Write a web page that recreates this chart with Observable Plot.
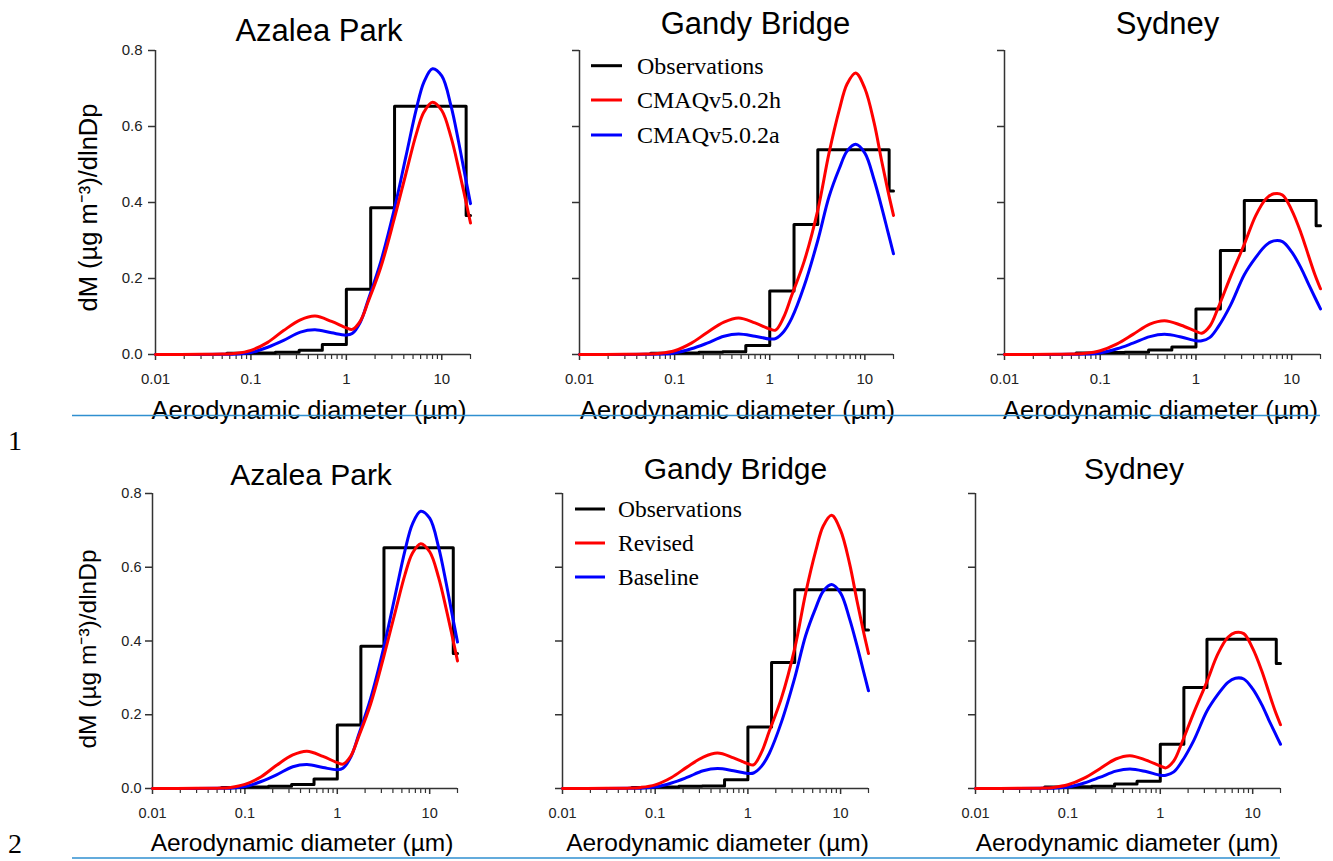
<!DOCTYPE html>
<html><head><meta charset="utf-8">
<script src="https://cdn.jsdelivr.net/npm/d3@7"></script>
<script src="https://cdn.jsdelivr.net/npm/@observablehq/plot@0.6"></script>
<style>
body{margin:0;background:#fff;}
#root{position:relative;width:1333px;height:861px;overflow:hidden;background:#fff;font-family:"Liberation Sans",Arial,sans-serif;}
</style></head><body><div id="root"></div>
<script>
// ---------- data ----------
const sites = ["Azalea Park", "Gandy Bridge", "Sydney"];
const xLabel = "Aerodynamic diameter (µm)";
const yLabel = "dM (µg m⁻³)/dlnDp";
const legendRow1 = ["Observations", "CMAQv5.0.2h", "CMAQv5.0.2a"];
const legendRow2 = ["Observations", "Revised", "Baseline"];
const yTicks = [0, 0.2, 0.4, 0.6, 0.8];
const xMajor = [0.01, 0.1, 1, 10];
const xMajorLabels = ["0.01", "0.1", "1", "10"];
const xMinor = [0.02,0.03,0.04,0.05,0.06,0.07,0.08,0.09,0.2,0.3,0.4,0.5,0.6,0.7,0.8,0.9,2,3,4,5,6,7,8,9,20];

// observation bins (lower edges, last = upper end)
const obsEdges = [0.056, 0.1, 0.18, 0.32, 0.56, 1.0, 1.8, 3.2, 18, 20];
const obsAzalea = [0.003, 0.004, 0.006, 0.011, 0.026, 0.172, 0.386, 0.653, 0.366];
const obsGandy  = [0.003, 0.004, 0.006, 0.007, 0.024, 0.167, 0.342, 0.539, 0.43];
const obsSydney = [0.004, 0.005, 0.006, 0.012, 0.020, 0.120, 0.274, 0.405, 0.339];

// model curves sampled at diameters
const modelDp = [0.01,0.03,0.05,0.07,0.1,0.15,0.22,0.33,0.47,0.7,1.0,1.15,1.4,1.7,2.3,3.2,4.2,5.4,6.5,8,10,12.5,15,17.5,20];
const azaleaRevised  = [0,0.0005,0.001,0.003,0.011,0.032,0.063,0.091,0.101,0.087,0.070,0.066,0.088,0.14,0.23,0.36,0.475,0.58,0.638,0.664,0.642,0.572,0.49,0.414,0.346];
const azaleaBaseline = [0,0,0.0005,0.001,0.005,0.019,0.037,0.059,0.065,0.057,0.051,0.055,0.085,0.145,0.245,0.385,0.52,0.645,0.717,0.752,0.733,0.654,0.56,0.472,0.397];
const gandyRevised   = [0,0.0005,0.001,0.003,0.010,0.030,0.058,0.085,0.096,0.083,0.067,0.064,0.098,0.155,0.245,0.38,0.53,0.645,0.712,0.741,0.70,0.61,0.51,0.43,0.366];
const gandyBaseline  = [0,0,0.0005,0.001,0.004,0.015,0.030,0.048,0.054,0.048,0.041,0.042,0.06,0.095,0.18,0.30,0.415,0.49,0.535,0.553,0.53,0.46,0.388,0.322,0.265];
const sydneyRevised  = [0,0.0005,0.001,0.003,0.010,0.028,0.053,0.080,0.089,0.077,0.061,0.056,0.075,0.122,0.205,0.29,0.365,0.41,0.423,0.42,0.38,0.32,0.26,0.21,0.173];
const sydneyBaseline = [0,0,0.0005,0.001,0.004,0.015,0.030,0.047,0.053,0.046,0.036,0.036,0.045,0.072,0.13,0.21,0.255,0.288,0.299,0.297,0.27,0.228,0.185,0.15,0.12];

const siteData = [
  {obs: obsAzalea, red: azaleaRevised, blue: azaleaBaseline},
  {obs: obsGandy,  red: gandyRevised,  blue: gandyBaseline},
  {obs: obsSydney, red: sydneyRevised, blue: sydneyBaseline}
];

const RED = "#ff0000", BLUE = "#0000ff", AXIS = "#333";
const root = document.getElementById("root");

function obsPoints(vals) {
  const pts = vals.map((v, i) => ({x: obsEdges[i], y: v}));
  pts.push({x: obsEdges[obsEdges.length - 1], y: vals[vals.length - 1]});
  return pts;
}
function modelPoints(vals) { return modelDp.map((d, i) => ({x: d, y: vals[i]})); }

function panel(cfg) {
  const mL = 100, mR = 20, mT = 60, mB = 75;
  const d = siteData[cfg.site];
  const svg = Plot.plot({
    width: cfg.fw + mL + mR, height: cfg.fh + mT + mB,
    marginLeft: mL, marginRight: mR, marginTop: mT, marginBottom: mB,
    style: {background: "transparent", fontFamily: "'Liberation Sans', Arial, sans-serif", fontSize: cfg.tick + "px", color: "#222", overflow: "visible"},
    x: {type: "log", domain: [0.01, 20]},
    y: {domain: [0, 0.8]},
    marks: [
      Plot.axisY({ticks: yTicks, tickSize: 7, tickPadding: cfg.yPad, label: null,
        tickFormat: cfg.yLabels ? (v => v.toFixed(1)) : (() => ""), stroke: AXIS, strokeWidth: 1.5, fill: "#222"}),
      Plot.axisX({ticks: xMajor, tickSize: 6, tickPadding: 13, label: null,
        tickFormat: v => xMajorLabels[xMajor.indexOf(v)], stroke: AXIS, strokeWidth: 1.5, fill: "#222"}),
      Plot.axisX({ticks: xMinor, tickSize: 5, label: null, tickFormat: () => "", stroke: AXIS, strokeWidth: 1.2}),
      Plot.ruleX([0.01], {stroke: AXIS, strokeWidth: 1.5}),
      Plot.ruleY([0], {stroke: AXIS, strokeWidth: 1.5}),
      Plot.line(obsPoints(d.obs), {x: "x", y: "y", curve: "step-after", stroke: "#000", strokeWidth: 3}),
      Plot.line(modelPoints(d.blue), {x: "x", y: "y", curve: "catmull-rom", stroke: BLUE, strokeWidth: 3}),
      Plot.line(modelPoints(d.red), {x: "x", y: "y", curve: "catmull-rom", stroke: RED, strokeWidth: 3}),
      Plot.text([sites[cfg.site]], {text: t => t, frameAnchor: "top", lineAnchor: "bottom", dy: cfg.titleDy, dx: cfg.titleDx,
        fontSize: cfg.titleSize, fill: "#000"}),
      Plot.text([xLabel], {text: t => t, frameAnchor: "bottom", lineAnchor: "bottom", dy: cfg.xlabDy, dx: cfg.xlabDx,
        fontSize: cfg.labSize, fill: "#000"}),
      cfg.yLabels ? Plot.text([yLabel], {text: t => t, frameAnchor: "left", rotate: -90, lineAnchor: "middle", textAnchor: "middle",
        dx: cfg.ylabDx, dy: cfg.ylabDy, fontSize: cfg.labSize, fill: "#000"}) : null
    ]
  });
  svg.style.position = "absolute";
  svg.style.left = (cfg.left - mL) + "px";
  svg.style.top = (cfg.top - mT) + "px";
  svg.style.maxWidth = "none";
  root.appendChild(svg);
}

const row1 = {top: 50, fh: 304, titleSize: 31, labSize: 25.5, tick: 15, xlabDy: 64.5, yPad: 6};
const row2 = {top: 493, fh: 295, titleSize: 30, labSize: 24.5, tick: 14.5, xlabDy: 62, yPad: 4};
panel({...row1, site: 0, left: 155, fw: 315, titleDy: -10, titleDx: 6, xlabDx: -4, yLabels: true, ylabDx: -67, ylabDy: 5});
panel({...row1, site: 1, left: 579, fw: 314, titleDy: -17, titleDx: 19, xlabDx: 1});
panel({...row1, site: 2, left: 1004, fw: 316, titleDy: -17, titleDx: 5, xlabDx: -2});
panel({...row2, site: 0, left: 152, fw: 305, titleDy: -9, titleDx: 6, xlabDx: -3, yLabels: true, ylabDx: -64, ylabDy: 8});
panel({...row2, site: 1, left: 562, fw: 306, titleDy: -15, titleDx: 20, xlabDx: 2});
panel({...row2, site: 2, left: 975, fw: 305, titleDy: -15, titleDx: 6, xlabDx: -1});

// legends and page decorations
const NS = "http://www.w3.org/2000/svg";
function overlay() {
  const s = document.createElementNS(NS, "svg");
  s.setAttribute("width", 1333); s.setAttribute("height", 861);
  s.style.position = "absolute"; s.style.left = "0px"; s.style.top = "0px";
  root.appendChild(s);
  return s;
}
const ov = overlay();
function el(tag, attrs, text) {
  const e = document.createElementNS(NS, tag);
  for (const k in attrs) e.setAttribute(k, attrs[k]);
  if (text !== undefined) e.textContent = text;
  ov.appendChild(e);
  return e;
}
const legColors = ["#000", RED, BLUE];
function legend(labels, x1, x2, ys, tx, fs) {
  labels.forEach((lab, i) => {
    el("line", {x1, x2, y1: ys[i], y2: ys[i], stroke: legColors[i], "stroke-width": 3});
    el("text", {x: tx, y: ys[i] + fs * 0.33, "font-family": "'Liberation Serif','Times New Roman',serif", "font-size": fs, fill: "#000"}, lab);
  });
}
legend(legendRow1, 591, 622, [65.7, 100, 135], 637, 24);
legend(legendRow2, 575, 605, [509, 543, 577], 618, 23.5);

el("line", {x1: 72, x2: 1320, y1: 415.5, y2: 415.5, stroke: "#2f8fd0", "stroke-width": 1.5});
el("line", {x1: 72, x2: 1280, y1: 858, y2: 858, stroke: "#2f8fd0", "stroke-width": 1.5});
el("text", {x: 8, y: 450, "font-family": "'Liberation Serif','Times New Roman',serif", "font-size": 28, fill: "#000"}, "1");
el("text", {x: 8, y: 853, "font-family": "'Liberation Serif','Times New Roman',serif", "font-size": 28, fill: "#000"}, "2");
</script></body></html>
